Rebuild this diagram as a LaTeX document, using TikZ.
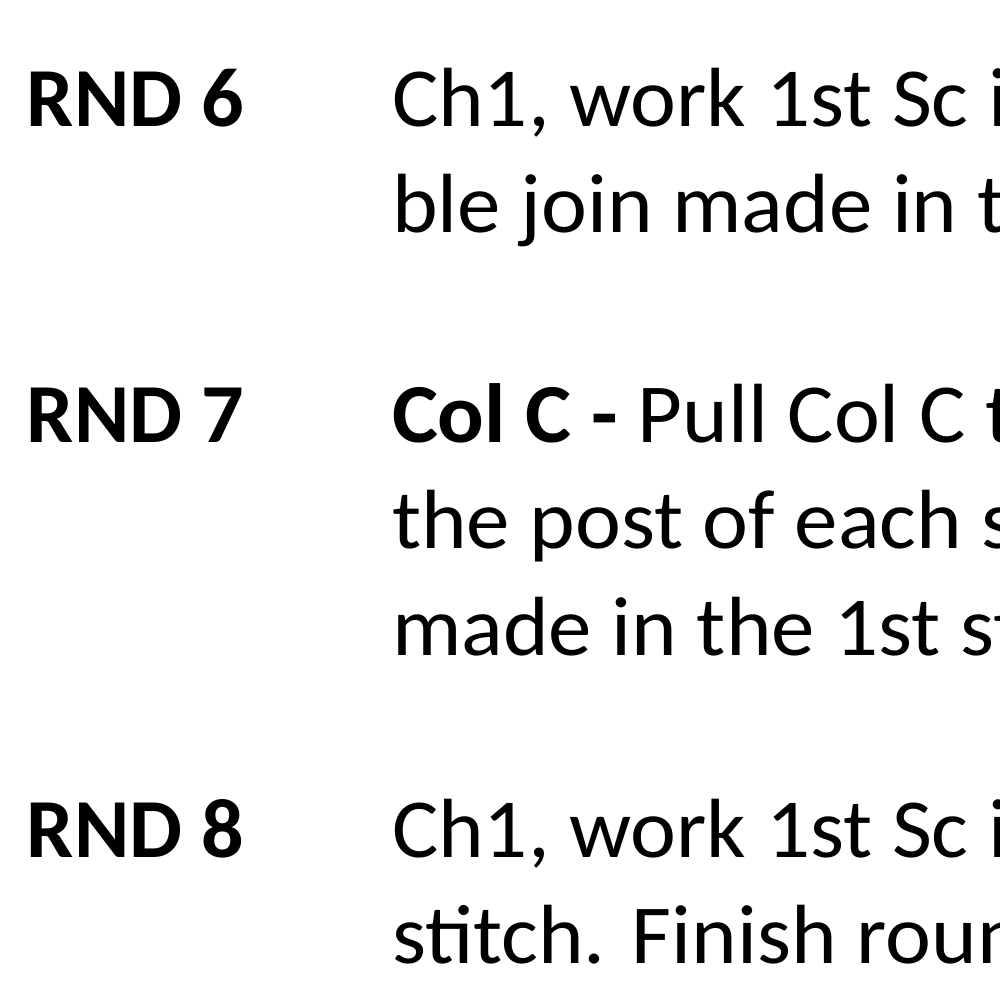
\documentclass[tikz,border=0pt]{standalone}
\usepackage{fontspec}
\setmainfont{Carlito}
\newfontfamily\bodyfont[FakeStretch=1.035]{Carlito}
\begin{document}
\begin{tikzpicture}[x=1pt,y=-1pt,
  txt/.style={anchor=base west,inner sep=0pt,outer sep=0pt,font=\fontsize{84}{100}\selectfont\bodyfont,text=black},
  lbl/.style={anchor=base west,inner sep=0pt,outer sep=0pt,font=\fontsize{84}{100}\selectfont\bfseries,text=black}]
\fill[white] (0,0) rectangle (1000,1000);
\useasboundingbox (0,0) rectangle (1000,1000);
\clip (0,0) rectangle (1000,1000);
\node[lbl] (r6) at (27,127) {RND 6};
\node[txt] (r6a) at (392,127) {Ch1, work 1st Sc in};
\node[txt] (r6b) at (392,233) {ble join made in th};
\node[lbl] (r7) at (27,442) {RND 7};
\node[txt] (r7a) at (392,442) {\textbf{Col C -} Pull Col C th};
\node[txt] (r7b) at (392,548) {the post of each st};
\node[txt] (r7c) at (392,655) {made in the 1st st};
\node[lbl] (r8) at (27,857) {RND 8};
\node[txt] (r8a) at (392,857) {Ch1, work 1st Sc in};
\node[txt] (r8b) at (392,963) {stitch. Finish roun};
\end{tikzpicture}
\end{document}
